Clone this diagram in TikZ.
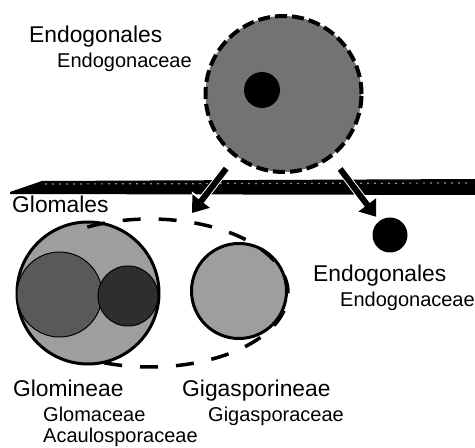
\documentclass[tikz,border=0pt]{standalone}
\usepackage{fontspec}
\setmainfont{Liberation Sans}
\usetikzlibrary{arrows.meta}

\begin{document}
\begin{tikzpicture}[
        x=1pt, y=1pt,
        every node/.style={inner sep=0pt, anchor=base west},
        taxon/.style={font=\fontsize{22.8}{25}\selectfont},
        family/.style={font=\fontsize{20}{22}\selectfont},
        spore/.style={circle, draw=black, line width=3pt, inner sep=0pt, anchor=center},
        dot/.style={circle, fill=black, inner sep=0pt, anchor=center},
        link/.style={line width=6pt, -{Triangle[length=15pt, width=21pt]},
            preaction={draw=white, line width=8pt, -{Triangle[length=17pt, width=25pt]}}}
    ]
        \useasboundingbox (0,0) rectangle (475,448);

        % ancestral Endogonales
        \node[spore, minimum size=156pt, fill=black!55, line width=4pt,
              dash pattern=on 12pt off 5pt] (endo) at (283.5,354) {};
        \node[dot, minimum size=36pt] (endocore) at (262,358) {};
        \node[taxon]  (endoname) at (29,405) {Endogonales};
        \node[family] (endofam)  at (57,380) {Endogonaceae};

        % plane
        \fill[black] (10,256) -- (42,267) -- (475,269) -- (475,253) -- (10,254) -- cycle;
        \draw[black!45, line width=1.2pt, dash pattern=on 2pt off 5pt] (45,264) -- (472,265);

        % Glomales
        \node[spore, minimum size=142pt, fill=black!38] (glomin) at (88,155) {};
        \node[spore, minimum size=85pt, fill=black!65, line width=1pt] (glomus) at (59.5,153.5) {};
        \node[spore, minimum size=60pt, fill=black!82, line width=1pt] (acaulo) at (128,152) {};
        \node[spore, minimum size=95pt, fill=black!38] (gigas) at (239,157) {};
        \draw[line width=3.5pt, dash pattern=on 18pt off 18pt]
            ([shift={(117:138 and 74)}]150,155) arc[start angle=117, end angle=-117, x radius=138, y radius=74];
        \coordinate (gloin) at (192,235);
        \node[taxon] (gloname) at (12,235) {Glomales};

        % modern Endogonales
        \node[dot, minimum size=35pt] (endonew) at (390,213) {};
        \node[taxon]  (endonewname) at (313,166) {Endogonales};
        \node[family] (endonewfam)  at (340,141) {Endogonaceae};

        % suborders
        \node[taxon]  (glomineae) at (13,51)  {Glomineae};
        \node[family] (glomaceae) at (43,26)  {Glomaceae};
        \node[family] (acaulaceae) at (43,5)  {Acaulosporaceae};
        \node[taxon]  (gigasineae) at (182,51) {Gigasporineae};
        \node[family] (gigasaceae) at (208,26) {Gigasporaceae};

        \draw[link, shorten <=14pt] (endo) -- (gloin);
        \draw[link, shorten <=14pt, shorten >=5pt] (endo) -- (endonew);
    \end{tikzpicture}
\end{document}
